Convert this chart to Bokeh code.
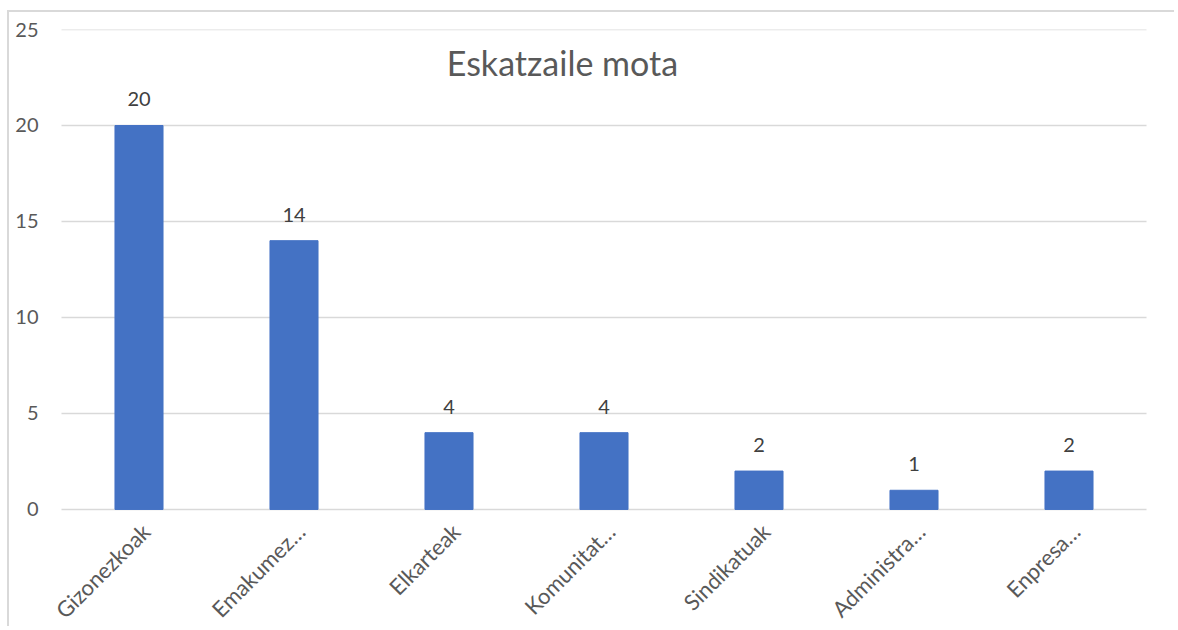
from math import pi
from bokeh.plotting import figure
from bokeh.models import ColumnDataSource, FactorRange, Range1d, Label, FixedTicker
from bokeh.core.properties import value
from bokeh.embed import file_html
from bokeh.resources import INLINE

categories = ["Gizonezkoak", "Emakumez…", "Elkarteak", "Komunitat…", "Sindikatuak", "Administra…", "Enpresa…"]
counts = [20, 14, 4, 4, 2, 1, 2]
y_ticks = [0, 5, 10, 15, 20, 25]
title_text = "Eskatzaile mota"

FONT = "Lato"
TXT = "#595959"
GRID = "#d9d9d9"
BAR = "#4472c4"

src = ColumnDataSource(dict(cat=categories, val=counts, lbl=[str(v) for v in counts],
                            base=[0] * len(categories)))
grid_src = ColumnDataSource(dict(y=y_ticks, x0=[0] * len(y_ticks),
                                 x1=[len(categories)] * len(y_ticks)))

# y range extends below 0 so the rotated category labels can be drawn inside the frame;
# x range padded so the first label is not clipped at the left
p = figure(x_range=FactorRange(factors=categories, range_padding=16 / 155, range_padding_units="absolute"),
           y_range=Range1d(-6.2, 25),
           width=1167, height=616, output_backend="svg", toolbar_location=None,
           min_border_left=36, min_border_right=14, min_border_top=17, min_border_bottom=0)
p.margin = (10, 0, 0, 7)
p.styles = {"border-left": "2px solid #d9d9d9", "border-top": "2px solid #d9d9d9"}
p.outline_line_color = None

# horizontal gridlines over the category span only
p.segment(x0="x0", x1="x1", y0="y", y1="y", source=grid_src, line_color=GRID, line_width=1.5)

p.vbar(x="cat", top="val", width=0.31, source=src, fill_color=BAR, line_color=BAR)
p.text(x="cat", y="val", text="lbl", source=src, text_align="center", text_baseline="bottom",
       y_offset=-19, text_font=value(FONT), text_font_size="20px", text_color="#404040")

# rotated category labels under the zero line
p.text(x="cat", y="base", text="cat", source=src, angle=pi / 4,
       text_align="right", text_baseline="middle", x_offset=7, y_offset=18,
       text_font=value(FONT), text_font_size="22px", text_color=TXT)

p.add_layout(Label(x=3.232, y=23.3, text=title_text, text_align="center", text_baseline="middle",
                   text_font=FONT, text_font_size="34px", text_color=TXT))

p.xgrid.grid_line_color = None
p.ygrid.grid_line_color = None
p.yaxis.ticker = FixedTicker(ticks=y_ticks)
p.yaxis.axis_line_color = None
p.yaxis.major_tick_line_color = None
p.yaxis.minor_tick_line_color = None
p.yaxis.major_tick_out = 0
p.yaxis.major_tick_in = 0
p.yaxis.major_label_standoff = 7
p.yaxis.major_label_text_font_size = "20px"
p.yaxis.major_label_text_font = FONT
p.yaxis.major_label_text_color = TXT
p.xaxis.visible = False

open("out.html", "w").write(file_html(p, INLINE))
